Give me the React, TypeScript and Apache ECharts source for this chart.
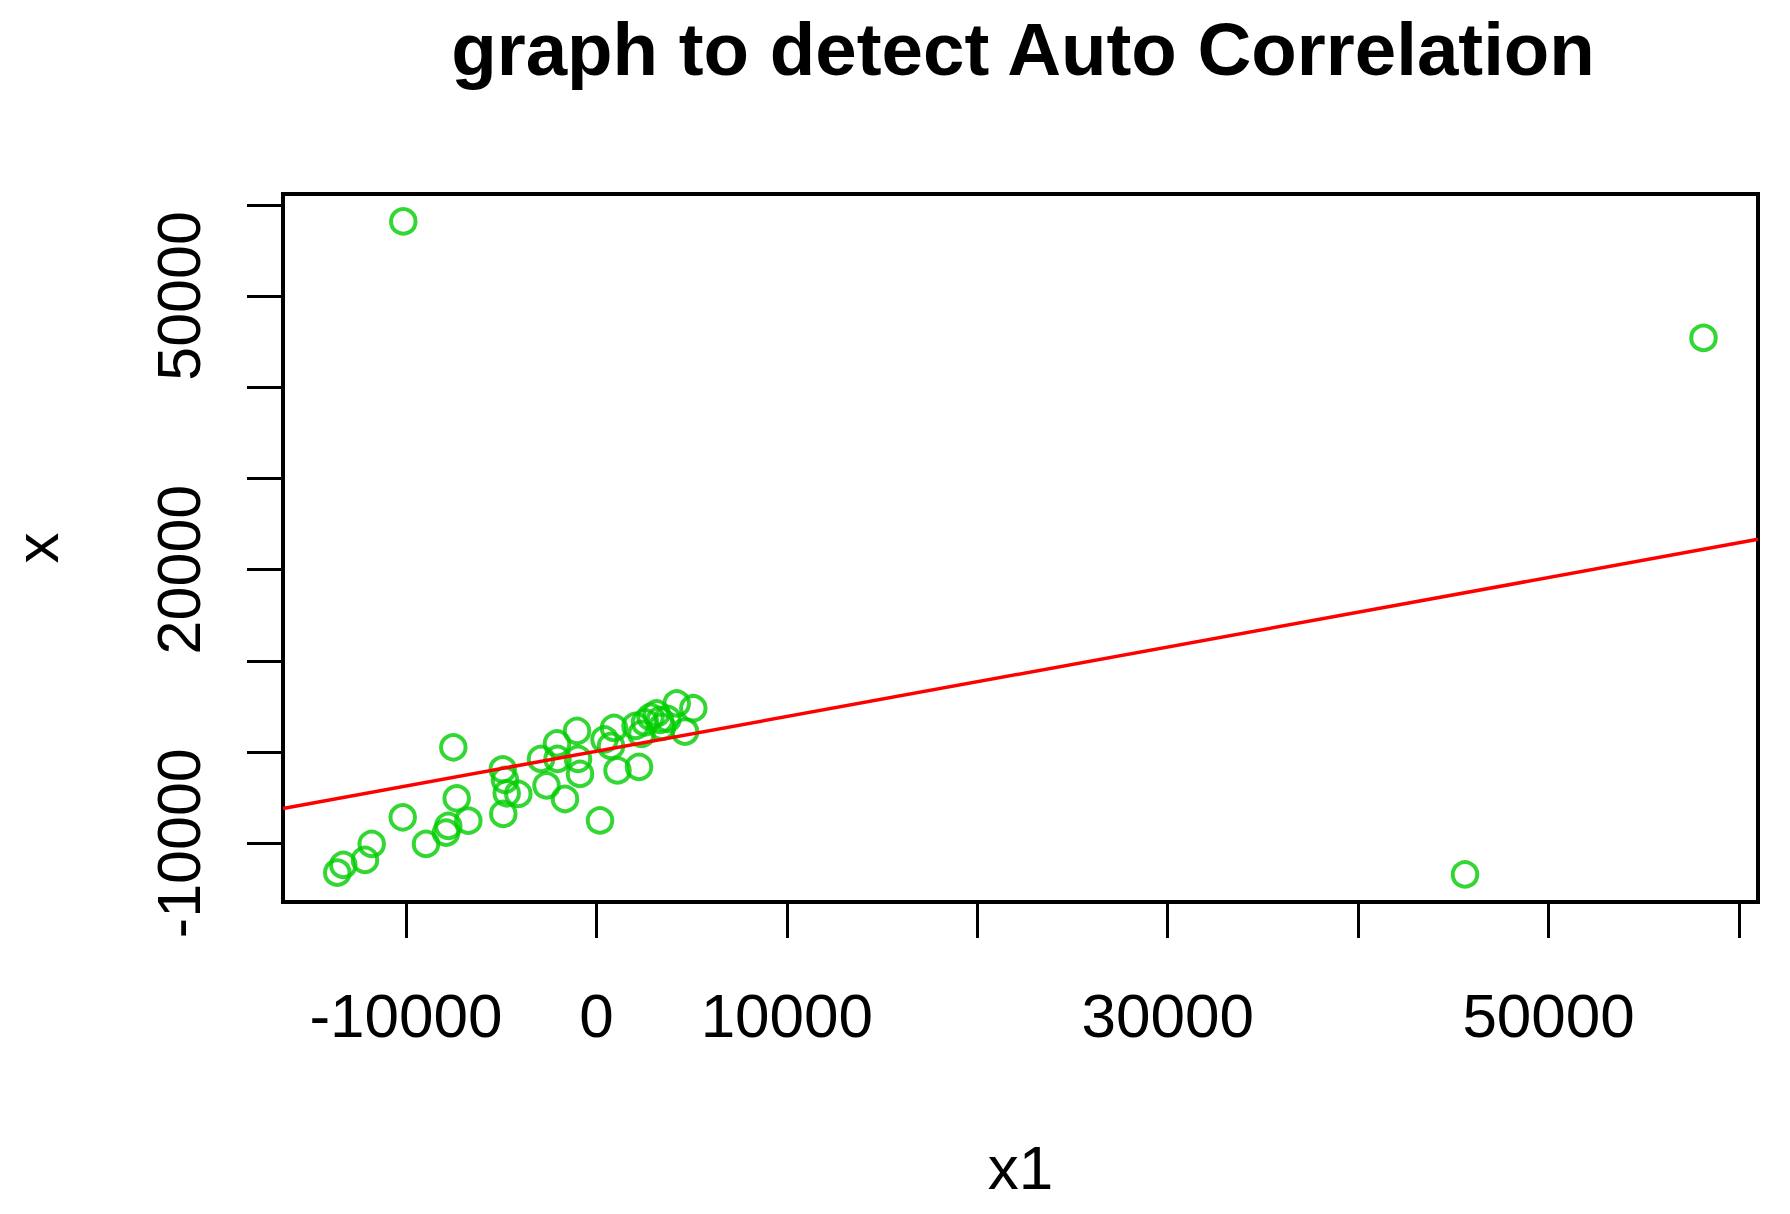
import React, { useEffect, useRef } from "react";
import * as echarts from "echarts";

// Lagged values (x1) and current values (x)
const x1Values = [
  -13606, -13290, -12151, -11799, -10171, -8948, -7897, -7777, -7514, -7336,
  -6727, -4920, -4799, -4710, -4889, -4101, -2909, -2620, -2069, -2043,
  -1649, -1019, -966, -861, 189, 425, 924, 767, 1108, 2053,
  2237, 2368, 2552, 2841, 3156, 3340, 3445, 3734, 4217, 4652,
  5088, -10140, 58134, 45610,
];
const xValues = [
  -13235, -12390, -11842, -10088, -7160, -10088, -8849, -8114, 515, -5077,
  -7533, -1897, -3070, -4528, -6798, -4605, -768, -3673, 932, -768,
  -5154, 2303, -768, -2412, -7511, 1371, 2632, 658, -2029, 2851,
  -1645, 1974, 3235, 3838, 4222, 3509, 2741, 3618, 5318, 2226,
  4792, 58170, 45395, -13432,
];

// Fitted line (abline)
const lineIntercept = 80;
const lineSlope = 0.381;

// Axis extents and ticks
const xMin = -16457;
const xMax = 60996;
const yMin = -16450;
const yMax = 61180;
const tickValues = [-10000, 0, 10000, 20000, 30000, 40000, 50000, 60000];
const xLabelValues = [-10000, 0, 10000, 30000, 50000];
const yLabelValues = [-10000, 20000, 50000];

const titleText = "graph to detect Auto Correlation";
const xName = "x1";
const yName = "x";

export default function App() {
  const ref = useRef<HTMLDivElement>(null);

  useEffect(() => {
    document.body.style.margin = "0";
    if (!ref.current) return;
    const chart = echarts.init(ref.current, undefined, { renderer: "svg" });
    const font = "'Liberation Sans', Arial, Helvetica, sans-serif";
    const points = x1Values.map((v, i) => [v, xValues[i]]);
    const linePts = [
      [xMin, lineIntercept + lineSlope * xMin],
      [xMax, lineIntercept + lineSlope * xMax],
    ];
    const fmt = (v: number) => String(v);
    chart.setOption({
      animation: false,
      backgroundColor: "#ffffff",
      title: {
        text: titleText,
        left: 1018,
        top: 7,
        textAlign: "center",
        textStyle: {
          fontSize: 74.5,
          fontWeight: "bold",
          fontFamily: font,
          color: "#000",
        },
      },
      grid: {
        left: 283,
        right: 32,
        top: 194,
        bottom: 312,
        show: true,
        borderColor: "#000",
        borderWidth: 4,
        backgroundColor: "transparent",
        containLabel: false,
        outerBoundsMode: "none",
      },
      xAxis: {
        type: "value",
        min: xMin,
        max: xMax,
        name: xName,
        nameLocation: "middle",
        nameGap: 234,
        nameTextStyle: { fontSize: 62, fontFamily: font, color: "#000" },
        axisLine: { show: false, onZero: false },
        splitLine: { show: false },
        axisTick: {
          show: true,
          inside: false,
          length: 36,
          customValues: tickValues,
          lineStyle: { color: "#000", width: 3 },
        },
        axisLabel: {
          customValues: xLabelValues,
          formatter: fmt,
          fontSize: 62,
          fontFamily: font,
          color: "#000",
          margin: 82,
        },
      },
      yAxis: {
        type: "value",
        min: yMin,
        max: yMax,
        name: yName,
        nameLocation: "middle",
        nameGap: 216,
        nameRotate: 90,
        nameTextStyle: { fontSize: 62, fontFamily: font, color: "#000" },
        axisLine: { show: false, onZero: false },
        splitLine: { show: false },
        axisTick: {
          show: true,
          inside: false,
          length: 36,
          customValues: tickValues,
          lineStyle: { color: "#000", width: 3 },
        },
        axisLabel: {
          customValues: yLabelValues,
          formatter: fmt,
          rotate: 90,
          fontSize: 61,
          fontFamily: font,
          color: "#000",
          margin: 74,
        },
      },
      series: [
        {
          type: "scatter",
          data: points,
          symbol: "circle",
          symbolSize: 24.5,
          itemStyle: {
            color: "rgba(0,0,0,0)",
            borderColor: "#00CD00",
            borderWidth: 4,
          },
          emphasis: { disabled: true },
        },
        {
          type: "line",
          data: linePts,
          showSymbol: false,
          symbol: "none",
          lineStyle: { color: "#FF0000", width: 3.5 },
          emphasis: { disabled: true },
        },
      ],
    });
    return () => chart.dispose();
  }, []);

  return (
    <div
      ref={ref}
      style={{ position: "absolute", left: 0, top: 0, width: 1790, height: 1214 }}
    />
  );
}
